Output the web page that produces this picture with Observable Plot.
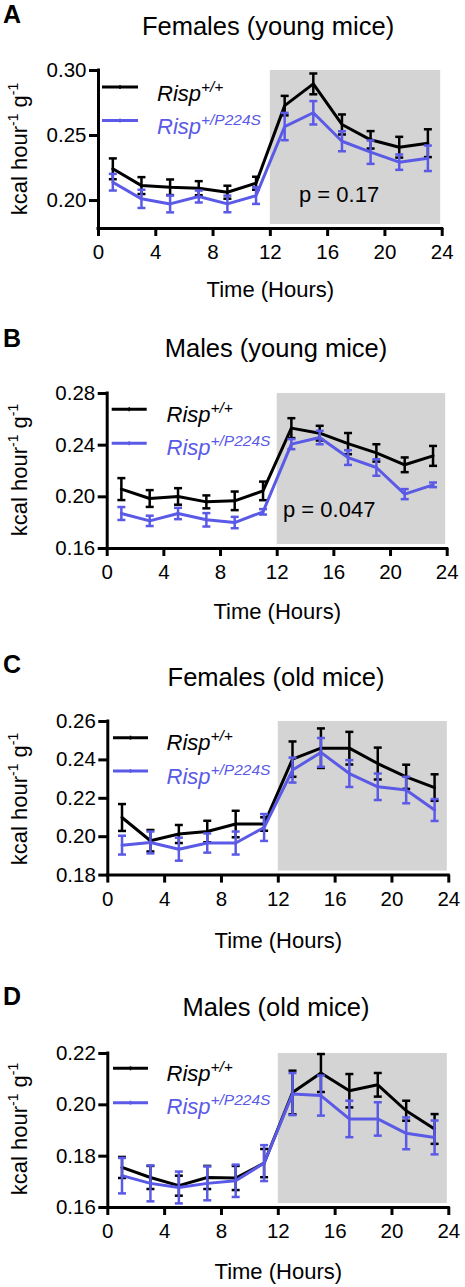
<!DOCTYPE html>
<html><head><meta charset="utf-8">
<script src="https://cdn.jsdelivr.net/npm/d3@7"></script>
<script src="https://cdn.jsdelivr.net/npm/@observablehq/plot@0.6"></script>
<style>
body{margin:0;background:#fff;}
#fig{position:relative;width:465px;height:1287px;overflow:hidden;}
</style></head><body><div id="fig"></div>
<script>
// ---------- data ----------
const hours = [1,3,5,7,9,11,13,15,17,19,21,23];
const xTicks = [0,4,8,12,16,20,24];
const nightPeriod = [12, 24];
const xLabel = "Time (Hours)";
const seriesNames = ["Risp", "Risp"];
const seriesSups = ["+/+", "+/P224S"];

// A: Females (young mice)
const femYoungWT     = [0.2244,0.2115,0.2102,0.2095,0.2064,0.2133,0.2730,0.2897,0.2585,0.2467,0.2410,0.2441];
const femYoungWTerr  = [0.0080,0.0065,0.0060,0.0054,0.0050,0.0050,0.0075,0.0080,0.0077,0.0067,0.0080,0.0107];
const femYoungMut    = [0.2141,0.2013,0.1974,0.2031,0.1974,0.2038,0.2569,0.2675,0.2456,0.2372,0.2295,0.2325];
const femYoungMuterr = [0.0064,0.0070,0.0065,0.0046,0.0064,0.0064,0.0105,0.0090,0.0077,0.0090,0.0059,0.0098];
const femYoungTicks  = [0.20,0.25,0.30];
const femYoungDomain = [0.1785,0.30];

// B: Males (young mice)
const malYoungWT     = [0.2060,0.1987,0.2003,0.1961,0.1969,0.2046,0.2532,0.2493,0.2412,0.2340,0.2248,0.2317];
const malYoungWTerr  = [0.0085,0.0065,0.0064,0.0050,0.0072,0.0072,0.0077,0.0057,0.0082,0.0067,0.0057,0.0077];
const malYoungMut    = [0.1871,0.1814,0.1871,0.1822,0.1801,0.1884,0.2408,0.2459,0.2304,0.2227,0.2021,0.2093];
const malYoungMuterr = [0.0050,0.0040,0.0044,0.0052,0.0044,0.0021,0.0039,0.0052,0.0057,0.0064,0.0039,0.0018];
const malYoungTicks  = [0.16,0.20,0.24,0.28];
const malYoungDomain = [0.16,0.28];

// C: Females (old mice)
const femOldWT     = [0.2100,0.1979,0.2014,0.2027,0.2066,0.2066,0.2404,0.2461,0.2461,0.2381,0.2312,0.2256];
const femOldWTerr  = [0.0070,0.0056,0.0047,0.0056,0.0069,0.0035,0.0092,0.0103,0.0085,0.0083,0.0063,0.0069];
const femOldMut    = [0.1956,0.1970,0.1935,0.1967,0.1967,0.2048,0.2347,0.2439,0.2329,0.2260,0.2243,0.2139];
const femOldMuterr = [0.0049,0.0057,0.0060,0.0050,0.0060,0.0070,0.0065,0.0075,0.0070,0.0069,0.0069,0.0057];
const femOldTicks  = [0.18,0.20,0.22,0.24,0.26];
const femOldDomain = [0.18,0.26];

// D: Males (old mice)
const malOldWT     = [0.1756,0.1717,0.1685,0.1717,0.1715,0.1773,0.2048,0.2124,0.2055,0.2078,0.1977,0.1906];
const malOldWTerr  = [0.0041,0.0045,0.0039,0.0045,0.0047,0.0055,0.0085,0.0074,0.0065,0.0046,0.0039,0.0058];
const malOldMut    = [0.1724,0.1694,0.1678,0.1694,0.1704,0.1773,0.2042,0.2036,0.1945,0.1945,0.1889,0.1873];
const malOldMuterr = [0.0069,0.0070,0.0062,0.0066,0.0063,0.0070,0.0082,0.0078,0.0071,0.0065,0.0062,0.0066];
const malOldTicks  = [0.16,0.18,0.20,0.22];
const malOldDomain = [0.16,0.22];

const letters = ["A","B","C","D"];
const titles = ["Females (young mice)","Males (young mice)","Females (old mice)","Males (old mice)"];
const pTexts = ["p = 0.17","p = 0.047",null,null];

// ---------- styling / layout ----------
const FONT = '"Liberation Sans", Arial, Helvetica, sans-serif';
const COLORS = ["#000000", "#5A5AE6"];
const GREY = "#d4d4d4";

const layouts = [
  {left:98,    right:441.7, top:70,     bottom:228,    xlabDy:68,
   letterY:23,   titleX:268, titleY:35,  ylabY:149,
   lx1:102, lx2:138, ly:[87,120.5], tx:157, ty:[100.5,134], px:299, py:202},
  {left:106.7, right:446.7, top:392.7,  bottom:547.7,  xlabDy:70,
   letterY:346.7, titleX:276, titleY:357, ylabY:470,
   lx1:111.7, lx2:146.7, ly:[409.3,443.3], tx:166.5, ty:[421.7,455], px:283, py:516.7},
  {left:107.3, right:448.3, top:720.7,  bottom:874.3,  xlabDy:73,
   letterY:672.7, titleX:276, titleY:686, ylabY:799,
   lx1:113, lx2:148, ly:[737.7,771], tx:166.5, ty:[750,784]},
  {left:107.3, right:448.3, top:1052.7, bottom:1206.7, xlabDy:71,
   letterY:1005, titleX:276, titleY:1015.5, ylabY:1129,
   lx1:113, lx2:148, ly:[1068.3,1102.7], tx:166.5, ty:[1080.7,1114]}
];

const panels = [
  {wt:femYoungWT, wtErr:femYoungWTerr, mut:femYoungMut, mutErr:femYoungMuterr, ticks:femYoungTicks, domain:femYoungDomain},
  {wt:malYoungWT, wtErr:malYoungWTerr, mut:malYoungMut, mutErr:malYoungMuterr, ticks:malYoungTicks, domain:malYoungDomain},
  {wt:femOldWT,   wtErr:femOldWTerr,   mut:femOldMut,   mutErr:femOldMuterr,   ticks:femOldTicks,   domain:femOldDomain},
  {wt:malOldWT,   wtErr:malOldWTerr,   mut:malOldMut,   mutErr:malOldMuterr,   ticks:malOldTicks,   domain:malOldDomain}
];

// horizontal cap symbol for error bars
const capSymbol = {draw(ctx, size){ const r = Math.sqrt(size/Math.PI); ctx.moveTo(-r,0); ctx.lineTo(r,0); }};

const fig = document.getElementById("fig");

function seriesMarks(means, errs, color){
  const rows = hours.map((h,i)=>({hour:h, mean:means[i], lo:means[i]-errs[i], hi:means[i]+errs[i]}));
  const caps = rows.flatMap(d=>[{hour:d.hour, v:d.lo},{hour:d.hour, v:d.hi}]);
  return [
    Plot.ruleX(rows, {x:"hour", y1:"lo", y2:"hi", stroke:color, strokeWidth:2.5}),
    Plot.dot(caps, {x:"hour", y:"v", symbol:capSymbol, r:4, fill:"none", stroke:color, strokeWidth:2.5}),
    Plot.line(rows, {x:"hour", y:"mean", stroke:color, strokeWidth:3})
  ];
}

panels.forEach((p, k) => {
  const L = layouts[k];
  const mt = 10, mb = 90;
  const H = mt + (L.bottom - L.top) + mb;
  const chart = Plot.plot({
    width: 465, height: H,
    marginLeft: L.left, marginRight: 465 - L.right, marginTop: mt, marginBottom: mb,
    style: {fontFamily: FONT, fontSize: "20px", color: "#000", background: "transparent", overflow: "visible"},
    x: {domain: [0, 24], label: null},
    y: {domain: p.domain, label: null},
    marks: [
      Plot.rect([{x1:nightPeriod[0], x2:nightPeriod[1], y1:p.domain[0], y2:p.domain[1]}],
        {x1:"x1", x2:"x2", y1:"y1", y2:"y2", fill:GREY, insetBottom:4, insetRight:1.5}),
      ...seriesMarks(p.wt, p.wtErr, COLORS[0]),
      ...seriesMarks(p.mut, p.mutErr, COLORS[1]),
      Plot.ruleX([0], {stroke:"#000", strokeWidth:3, strokeLinecap:"square"}),
      Plot.ruleY([p.domain[0]], {stroke:"#000", strokeWidth:3, strokeLinecap:"square"}),
      Plot.axisY({ticks: p.ticks, tickFormat: d3.format(".2f"), tickSize: 9, tickPadding: 3, strokeWidth: 3, fontSize: 20.5, label: null}),
      Plot.axisX({ticks: xTicks, tickFormat: d3.format("d"), tickSize: 8, tickPadding: 8, strokeWidth: 3, fontSize: 20.5, label: null}),
      Plot.text([xLabel], {text: d => d, frameAnchor: "bottom", lineAnchor: "bottom", dy: L.xlabDy, fontSize: 22})
    ]
  });
  chart.style.position = "absolute";
  chart.style.left = "0px";
  chart.style.top = (L.top - mt) + "px";
  fig.appendChild(chart);
});

// ---------- overlay: panel letters, titles, y labels, legends, p values ----------
const ov = d3.select(fig).append("svg")
  .attr("width", 465).attr("height", 1287)
  .style("position", "absolute").style("left", "0px").style("top", "0px")
  .style("font-family", FONT);

layouts.forEach((L, k) => {
  ov.append("text").attr("x", 3).attr("y", L.letterY)
    .attr("font-size", 25).attr("font-weight", "bold").text(letters[k]);
  ov.append("text").attr("x", L.titleX).attr("y", L.titleY)
    .attr("font-size", 25.5).attr("text-anchor", "middle").text(titles[k]);

  const yl = ov.append("text").attr("transform", `translate(27,${L.ylabY}) rotate(-90)`)
    .attr("font-size", 22).attr("text-anchor", "middle");
  yl.append("tspan").text("kcal hour");
  yl.append("tspan").attr("font-size", 14).attr("dy", -9).text("-1");
  yl.append("tspan").attr("dy", 9).text(" g");
  yl.append("tspan").attr("font-size", 14).attr("dy", -9).text("-1");

  [0,1].forEach(s => {
    ov.append("line").attr("x1", L.lx1).attr("x2", L.lx2).attr("y1", L.ly[s]).attr("y2", L.ly[s])
      .attr("stroke", COLORS[s]).attr("stroke-width", 3);
    ov.append("line").attr("x1", (L.lx1+L.lx2)/2).attr("x2", (L.lx1+L.lx2)/2)
      .attr("y1", L.ly[s]-2).attr("y2", L.ly[s]+2).attr("stroke", COLORS[s]).attr("stroke-width", 1.5);
    const t = ov.append("text").attr("x", L.tx).attr("y", L.ty[s]).attr("fill", COLORS[s])
      .attr("font-size", 22).attr("font-style", "italic");
    t.append("tspan").text(seriesNames[s]);
    t.append("tspan").attr("font-size", 15.5).attr("dy", -9).text(seriesSups[s]);
  });

  if (pTexts[k]) {
    ov.append("text").attr("x", L.px).attr("y", L.py).attr("font-size", 22).text(pTexts[k]);
  }
});
</script>
</body></html>
